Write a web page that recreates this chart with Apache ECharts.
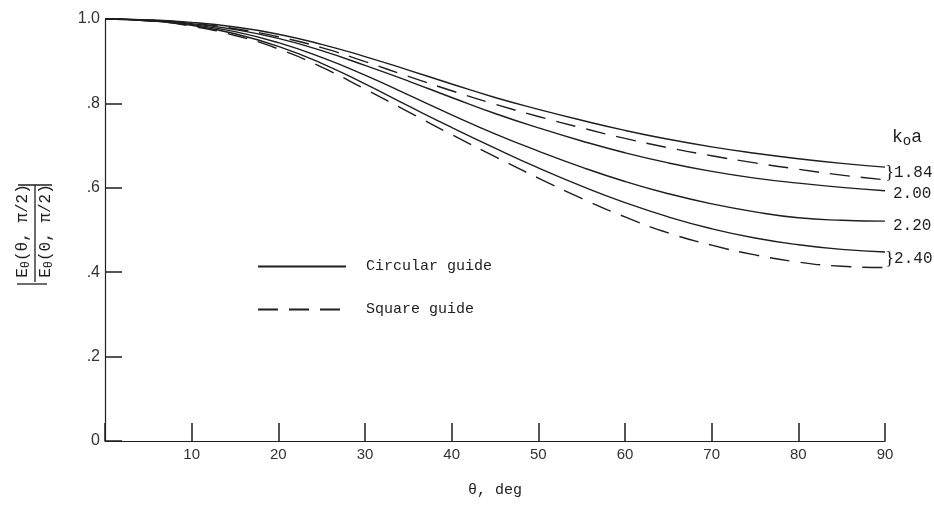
<!DOCTYPE html>
<html>
<head>
<meta charset="utf-8">
<script src="https://cdn.jsdelivr.net/npm/echarts@6/dist/echarts.min.js"></script>
<style>
  html, body { margin: 0; padding: 0; background: #fff; }
  #chart { width: 934px; height: 505px; }
</style>
</head>
<body>
<div id="chart"></div>
<script>
// angle, deg
var theta = [0, 5, 10, 15, 20, 25, 30, 35, 40, 45, 50, 55, 60, 65, 70, 75, 80, 85, 90];
// normalised field, circular guide
var circ184 = [1.000, 0.998, 0.992, 0.981, 0.964, 0.940, 0.911, 0.879, 0.846, 0.814, 0.786, 0.760, 0.736, 0.715, 0.697, 0.682, 0.669, 0.658, 0.649];
var circ200 = [1.000, 0.997, 0.989, 0.975, 0.954, 0.925, 0.890, 0.853, 0.814, 0.776, 0.742, 0.711, 0.683, 0.659, 0.639, 0.623, 0.611, 0.601, 0.593];
var circ220 = [1.000, 0.996, 0.987, 0.970, 0.944, 0.909, 0.867, 0.820, 0.773, 0.728, 0.687, 0.649, 0.615, 0.586, 0.562, 0.543, 0.529, 0.523, 0.521];
var circ240 = [1.000, 0.996, 0.985, 0.965, 0.935, 0.895, 0.846, 0.794, 0.743, 0.694, 0.647, 0.604, 0.565, 0.531, 0.503, 0.481, 0.465, 0.454, 0.448];
// square guide
var sq184 = [1.000, 0.997, 0.990, 0.977, 0.958, 0.932, 0.899, 0.864, 0.830, 0.798, 0.769, 0.742, 0.717, 0.695, 0.676, 0.659, 0.644, 0.630, 0.619];
var sq240 = [1.000, 0.996, 0.983, 0.961, 0.929, 0.886, 0.834, 0.780, 0.726, 0.674, 0.623, 0.575, 0.531, 0.493, 0.464, 0.441, 0.424, 0.414, 0.411];

var yLabels = ['0', '.2', '.4', '.6', '.8', '1.0'];
var ink = '#1e1e1e';
var mono = 'Liberation Mono';

function pairs(vals) {
  return theta.map(function (t, i) { return [t, vals[i]]; });
}

function curve(name, vals, dashed, label, off) {
  var s = {
    name: name,
    type: 'line',
    data: pairs(vals),
    smooth: 0.5,
    symbol: 'none',
    lineStyle: { color: ink, width: 1.4, type: dashed ? [20, 11] : 'solid' },
    itemStyle: { color: ink }
  };
  if (label) {
    s.endLabel = {
      show: true,
      formatter: label,
      offset: off,
      color: ink,
      fontFamily: 'Liberation Serif',
      fontSize: 19,
      rich: { n: { fontFamily: mono, fontSize: 16, color: ink } }
    };
  }
  return s;
}

var chart = echarts.init(document.getElementById('chart'));
chart.setOption({
  animation: false,
  backgroundColor: '#fff',
  grid: { left: 105, right: 49, top: 19, bottom: 64 },
  legend: {
    orient: 'vertical',
    left: 257,
    top: 259,
    padding: 0,
    itemWidth: 88,
    itemHeight: 14,
    itemGap: 28,
    selectedMode: false,
    data: ['Circular guide', 'Square guide'],
    itemStyle: { opacity: 0 },
    textStyle: { fontFamily: mono, fontSize: 15, color: ink, padding: [0, 0, 0, 15] }
  },
  xAxis: {
    type: 'value',
    min: 0,
    max: 90,
    interval: 10,
    name: 'θ, deg',
    nameLocation: 'middle',
    nameGap: 42,
    nameTextStyle: { fontFamily: mono, fontSize: 15, color: ink },
    axisLine: { lineStyle: { color: ink, width: 1.2 } },
    axisTick: { inside: true, length: 18, lineStyle: { color: ink, width: 1.5 } },
    axisLabel: {
      margin: 6,
      color: '#333',
      fontFamily: 'Liberation Sans',
      fontSize: 15,
      formatter: function (v) { return v === 0 ? '' : String(v); }
    },
    splitLine: { show: false }
  },
  yAxis: {
    type: 'value',
    min: 0,
    max: 1,
    interval: 0.2,
    axisLine: { show: true, lineStyle: { color: ink, width: 1.2 } },
    axisTick: { show: true, inside: true, length: 17, lineStyle: { color: ink, width: 1.5 } },
    axisLabel: {
      margin: 5,
      color: '#333',
      fontFamily: 'Liberation Sans',
      fontSize: 16,
      formatter: function (v) { return yLabels[Math.round(v / 0.2)]; }
    },
    splitLine: { show: false }
  },
  graphic: [
    {
      type: 'text', x: 23, y: 231, rotation: Math.PI / 2,
      style: {
        text: 'E{s|θ}(θ, π/2)', fill: ink, font: '16px "Liberation Mono"',
        align: 'center', verticalAlign: 'middle',
        rich: { s: { fontSize: 12, fontFamily: mono, fill: ink, padding: [6, 0, 0, 0] } }
      }
    },
    {
      type: 'text', x: 46, y: 231, rotation: Math.PI / 2,
      style: {
        text: 'E{s|θ}(0, π/2)', fill: ink, font: '16px "Liberation Mono"',
        align: 'center', verticalAlign: 'middle',
        rich: { s: { fontSize: 12, fontFamily: mono, fill: ink, padding: [6, 0, 0, 0] } }
      }
    },
    { type: 'line', shape: { x1: 35, y1: 185, x2: 35, y2: 282 }, style: { stroke: ink, lineWidth: 1.3 } },
    { type: 'line', shape: { x1: 18, y1: 185, x2: 52, y2: 185 }, style: { stroke: ink, lineWidth: 1.3 } },
    { type: 'line', shape: { x1: 17, y1: 284, x2: 47, y2: 284 }, style: { stroke: ink, lineWidth: 1.3 } },
    {
      type: 'text', x: 892, y: 137,
      style: {
        text: 'k{s|o}a', fill: ink, font: '18px "Liberation Mono"',
        align: 'left', verticalAlign: 'middle',
        rich: { s: { fontSize: 14, fontFamily: mono, fill: ink, padding: [9, 0, 0, 0] } }
      }
    }
  ],
  series: [
    curve('Circular guide', circ184),
    curve('Square guide', sq184, true, '}{n|1.84}', [-8, -7]),
    curve('Circular guide', circ200, false, '{n|2.00}', [0, 3]),
    curve('Circular guide', circ220, false, '{n|2.20}', [0, 5]),
    curve('Circular guide', circ240),
    curve('Square guide', sq240, true, '}{n|2.40}', [-8, -9])
  ]
});
</script>
</body>
</html>
